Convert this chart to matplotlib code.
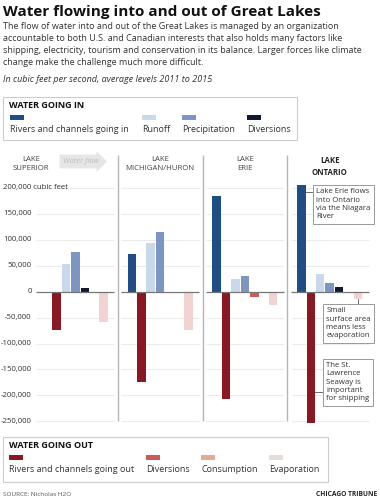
import matplotlib
matplotlib.use("Agg")
import matplotlib.pyplot as plt
from matplotlib.patches import Rectangle

plt.rcParams['font.family'] = ['Open Sans', 'DejaVu Sans']

lakes = ['LAKE\nSUPERIOR', 'LAKE\nMICHIGAN/HURON', 'LAKE\nERIE', 'LAKE\nONTARIO']
series = ['Rivers and channels going in', 'Rivers and channels going out', 'Runoff',
          'Precipitation', 'Diversions', 'Consumption', 'Evaporation']
# values per lake, cubic feet per second (negative = going out)
rivers_in = [0, 73000, 185000, 206000]
rivers_out = [-73500, -173500, -206000, -253000]
runoff = [52500, 94000, 24500, 34000]
precipitation = [75500, 115000, 29500, 16000]
diversions = [6500, -2000, -9500, 9500]
consumption = [0, -1500, 0, 0]
evaporation = [-58500, -73500, -25500, -14000]
yticks = [-250000, -200000, -150000, -100000, -50000, 0, 50000, 100000, 150000, 200000]

blue_dark = '#1f4e86'
blue_light = '#c9d8ea'
blue_mid = '#7d95c2'
navy = '#121a30'
red_dark = '#8a1822'
red_mid = '#cf5b58'
red_light = '#e8a897'
pink = '#f3d3d1'

fig = plt.figure(figsize=(3.8, 5.0), dpi=100)
ax = fig.add_axes([33 / 380, 76 / 500, 339 / 380, 269 / 500])
ax.set_xlim(0, 36)
ax.set_ylim(-255000, 263000)
for s in ax.spines.values():
    s.set_visible(False)
ax.set_xticks([])
ax.set_yticks([])

# grid & zero lines per panel
for i in range(4):
    x0, x1 = i * 9 + 0.35, (i + 1) * 9 - 0.35
    for t in yticks:
        if t == 0:
            continue
        ax.hlines(t, x0, x1, color='#ececec', lw=0.8, zorder=0)
    ax.hlines(0, x0, x1, color='#777777', lw=0.9, zorder=3)
for i in range(1, 4):
    ax.vlines(i * 9, -250000, 263000, color='#b5b5b5', lw=1.0, zorder=1)

# y tick labels
for t in yticks[:-1]:
    ax.text(-0.15, t, format(t, ','), ha='right', va='center', fontsize=5.6, color='#333333')
ax.text(-3.2, 200000, '200,000 cubic feet', ha='left', va='center', fontsize=5.6,
        color='#333333')

bar_w = 0.9
for i in range(4):
    vals = [rivers_in[i], rivers_out[i], runoff[i], precipitation[i],
            diversions[i], consumption[i], evaporation[i]]
    div_col = navy if diversions[i] > 0 else red_mid
    cols = [blue_dark, red_dark, blue_light, blue_mid, div_col, red_light, pink]
    for j, v in enumerate(vals):
        ax.bar(i * 9 + 1.5 + j, v, width=bar_w, color=cols[j], zorder=2)

# lake labels
lake_x = [-0.2, 13.5, 22.5, 31.5]
for i, name in enumerate(lakes):
    ax.text(lake_x[i], 262000, name, ha='center', va='top', fontsize=5.6,
            color='#222222' if i == 3 else '#444444',
            fontweight='bold' if i == 3 else 'normal', linespacing=1.45)

ax.text(5.1, 250500, 'Water flow', ha='center', va='center', fontsize=5.5, style='italic',
        color='#bdbdbd',
        bbox=dict(boxstyle='rarrow,pad=0.45', fc='#e6e6e6', ec='none'))

# annotations on Ontario
box = dict(boxstyle='square,pad=0.45', fc='white', ec='#999999', lw=0.7)
note_kw = dict(ha='left', va='top', fontsize=5.6, color='#333333', linespacing=1.25,
               bbox=box, zorder=5)
ax.text(30.1, 198500, 'Lake Erie flows\ninto Ontario\nvia the Niagara\nRiver', **note_kw)
ax.text(31.15, -30500, 'Small\nsurface area\nmeans less\nevaporation', **note_kw)
ax.text(31.15, -136000, 'The St.\nLawrence\nSeaway is\nimportant\nfor shipping', **note_kw)
ax.plot([28.95, 29.75], [191500, 191500], color='#555555', lw=0.6, zorder=4)
ax.plot([34.5, 34.5], [-14000, -24000], color='#555555', lw=0.6, zorder=4)
ax.plot([29.95, 30.8], [-193000, -193000], color='#555555', lw=0.6, zorder=4)

# header text
fig.text(3 / 380, 1 - 12 / 500, 'Water flowing into and out of Great Lakes', fontsize=11.0,
         fontweight='bold', va='center', ha='left', color='#111111')
fig.text(3 / 380, 1 - 22 / 500,
         'The flow of water into and out of the Great Lakes is managed by an organization\n'
         'accountable to both U.S. and Canadian interests that also holds many factors like\n'
         'shipping, electricity, tourism and conservation in its balance. Larger forces like climate\n'
         'change make the challenge much more difficult.',
         fontsize=6.5, va='top', ha='left', color='#333333', linespacing=1.45)
fig.text(3 / 380, 1 - 80 / 500, 'In cubic feet per second, average levels 2011 to 2015',
         fontsize=6.5, style='italic', va='center', ha='left', color='#333333')


def px_rect(x, y, w, h, **kw):
    fig.patches.append(Rectangle((x / 380, 1 - (y + h) / 500), w / 380, h / 500,
                                 transform=fig.transFigure, figure=fig, **kw))


def legend_box(x0, y0, w, h, title, labels, colors, xs):
    px_rect(x0, y0, w, h, fc='white', ec='#cccccc', lw=0.8)
    fig.text((x0 + 6) / 380, 1 - (y0 + 9) / 500, title, fontsize=6.5, fontweight='bold',
             va='center', ha='left', color='#111111')
    for lab, c, x in zip(labels, colors, xs):
        px_rect(x, y0 + 18, 14, 4.5, fc=c, ec='none')
        fig.text(x / 380, 1 - (y0 + 33) / 500, lab, fontsize=6.5, va='center', ha='left',
                 color='#333333')


legend_box(3, 97, 294, 43, 'WATER GOING IN',
           ['Rivers and channels going in', 'Runoff', 'Precipitation', 'Diversions'],
           [blue_dark, blue_light, blue_mid, navy], [10, 142, 182, 247])
legend_box(3, 437, 325, 45, 'WATER GOING OUT',
           ['Rivers and channels going out', 'Diversions', 'Consumption', 'Evaporation'],
           [red_dark, red_mid, red_light, '#e6dcd8'], [9, 146, 201, 269])

fig.text(3 / 380, 1 - 495 / 500, 'SOURCE: Nicholas H2O', fontsize=4.6, va='center',
         ha='left', color='#555555')
fig.text(377 / 380, 1 - 495 / 500, 'CHICAGO TRIBUNE', fontsize=4.8, fontweight='bold',
         va='center', ha='right', color='#222222')

fig.savefig('out.png', dpi=100)
